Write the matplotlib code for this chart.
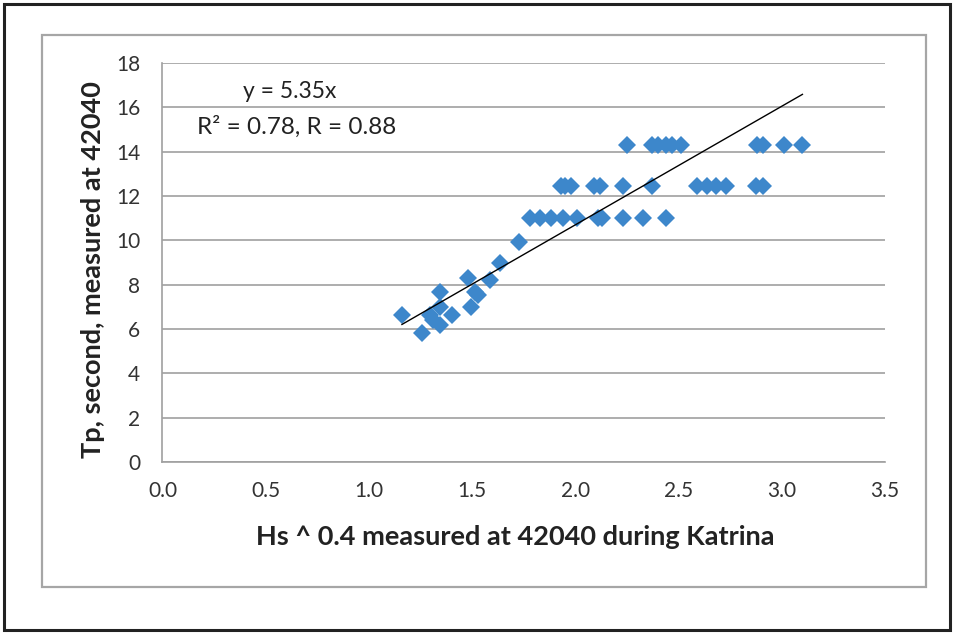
import matplotlib
matplotlib.use("Agg")
import matplotlib.pyplot as plt
from matplotlib.patches import Rectangle
import numpy as np

# Data
hs_04 = [
    # Tp ~ 14.3
    2.25, 2.37, 2.40, 2.44, 2.47, 2.51, 2.88, 2.91, 3.01, 3.10,
    # Tp ~ 12.5
    1.93, 1.95, 1.98, 2.09, 2.12, 2.23, 2.37, 2.59, 2.64, 2.68, 2.73, 2.875, 2.91,
    # Tp ~ 11.0
    1.78, 1.83, 1.88, 1.94, 2.01, 2.11, 2.13, 2.23, 2.33, 2.44,
    # lower points
    1.725, 1.636, 1.588, 1.478, 1.515, 1.53, 1.494, 1.342, 1.346, 1.402,
    1.297, 1.342, 1.257, 1.16, 1.312,
]
tp = [
    14.3, 14.3, 14.3, 14.3, 14.3, 14.3, 14.3, 14.3, 14.3, 14.3,
    12.45, 12.45, 12.45, 12.45, 12.45, 12.45, 12.45, 12.45, 12.45, 12.45, 12.45, 12.45, 12.45,
    11.0, 11.0, 11.0, 11.0, 11.0, 11.0, 11.0, 11.0, 11.0, 11.0,
    9.94, 8.99, 8.21, 8.29, 7.68, 7.53, 7.0, 7.68, 7.0, 6.63,
    6.63, 6.18, 5.8, 6.63, 6.4,
]
slope = 5.35
fit_range = [1.16, 3.10]
x_ticks = [0.0, 0.5, 1.0, 1.5, 2.0, 2.5, 3.0, 3.5]
y_ticks = [0, 2, 4, 6, 8, 10, 12, 14, 16, 18]
x_label = "Hs ^ 0.4 measured at 42040 during Katrina"
y_label = "Tp, second, measured at 42040"
eq_text = "y = 5.35x"
r_text = "R² = 0.78, R = 0.88"

W, H = 954, 633
fig = plt.figure(figsize=(W / 100, H / 100), dpi=100)
plt.rcParams['font.family'] = ['Lato', 'DejaVu Sans']

# outer frames
fig.patches.append(Rectangle((4 / W, 1 - 630 / H), (950 - 4) / W, (630 - 4) / H,
                             transform=fig.transFigure, fill=False,
                             edgecolor='#222222', linewidth=2.2))
fig.patches.append(Rectangle((42 / W, 1 - 586.5 / H), (926.5 - 42) / W, (586.5 - 35) / H,
                             transform=fig.transFigure, fill=False,
                             edgecolor='#A6A6A6', linewidth=1.6))

left, right, top, bottom = 162.5, 885, 63, 462
ax = fig.add_axes([left / W, 1 - bottom / H, (right - left) / W, (bottom - top) / H])

ax.set_xlim(0, 3.5)
ax.set_ylim(0, 18)
ax.set_xticks(x_ticks)
ax.set_xticklabels([f"{v:.1f}" for v in x_ticks])
ax.set_yticks(y_ticks)
ax.set_yticklabels([str(v) for v in y_ticks])
ax.tick_params(length=0, labelsize=15, colors='#333333')
ax.tick_params(axis='y', pad=16)
ax.tick_params(axis='x', pad=14)

ax.yaxis.grid(True, color='#A0A0A0', linewidth=1.2)
ax.set_axisbelow(True)
for s in ['top', 'right']:
    ax.spines[s].set_visible(False)
for s in ['left', 'bottom']:
    ax.spines[s].set_color('#A0A0A0')
    ax.spines[s].set_linewidth(1.2)

ax.plot(hs_04, tp, linestyle='none', marker='D', markersize=9.5,
        color='#3D87CB', markeredgewidth=0, zorder=3)

fx = np.array(fit_range)
ax.plot(fx, slope * fx, color='black', linewidth=1.0, zorder=4)

ax.annotate(eq_text, xy=((290 - left) / (right - left), 1 - (92 - top) / (bottom - top)),
            xycoords='axes fraction', ha='center', va='center', fontsize=16.5, color='#222222')
ax.annotate(r_text, xy=((297 - left) / (right - left), 1 - (127 - top) / (bottom - top)),
            xycoords='axes fraction', ha='center', va='center', fontsize=17.5, color='#222222')

fig.text(515 / W, 1 - 537 / H, x_label, ha='center', va='center',
         fontsize=19.5, fontweight='bold', color='#222222')
fig.text(93 / W, 1 - 270 / H, y_label, ha='center', va='center', rotation=90,
         fontsize=19.5, fontweight='bold', color='#222222')

fig.savefig("out.png", dpi=100)
